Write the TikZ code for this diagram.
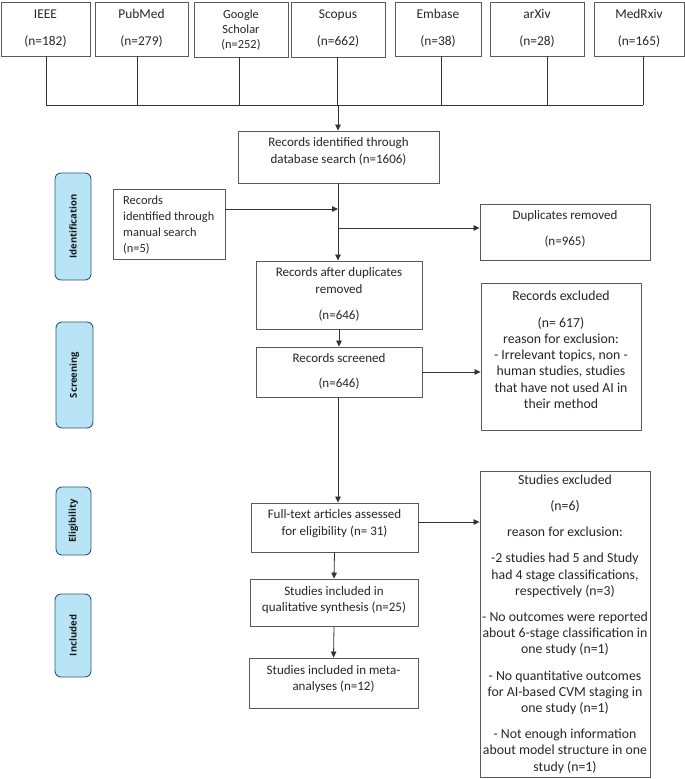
\documentclass[tikz,border=0pt]{standalone}
\usepackage{fontspec}
\setmainfont{Carlito}
\newfontfamily\sidefont{Open Sans}
\usetikzlibrary{arrows.meta}
\definecolor{boxline}{HTML}{5A5A5A}
\definecolor{connc}{HTML}{333333}
\definecolor{sidefill}{HTML}{B8E4F6}
\definecolor{sideline}{HTML}{2E5A78}
\begin{document}
\begin{tikzpicture}[x=1pt,y=-1pt,
  box/.style={draw=boxline, line width=0.9pt, inner sep=0pt},
  txt/.style={align=center, inner sep=0pt, font=\fontsize{13}{16.5}\selectfont, text=black!85},
  srctxt/.style={align=center, inner sep=0pt, font=\fontsize{13.4}{16}\selectfont, text=black!85},
  gtxt/.style={align=center, inner sep=0pt, font=\fontsize{12.4}{15}\selectfont, text=black!85},
  mantxt/.style={align=left, inner sep=0pt, font=\fontsize{12.4}{16}\selectfont, text=black!85},
  extxt/.style={align=center, inner sep=0pt, font=\fontsize{13.8}{16.2}\selectfont, text=black!85},
  sidebox/.style={draw=sideline, fill=sidefill, line width=0.9pt, rounded corners=6pt, inner sep=0pt},
  sidetxt/.style={rotate=90, inner sep=0pt, font=\sidefont\bfseries\fontsize{9.5}{10}\selectfont, text=black!90},
  conn/.style={draw=connc, line width=0.8pt},
  arr/.style={conn, -{Triangle[length=6pt,width=5.5pt]}}]
\useasboundingbox (0,0) rectangle (685,779);

% ---- source boxes
\node[box, minimum width=89pt, minimum height=54pt] (ieee) at (45.5,29) {};
\node[srctxt] (ieee-t) at (45.5,28.5) {IEEE\\[11pt](n=182)};
\node[box, minimum width=93pt, minimum height=54pt] (pubmed) at (141.5,29) {};
\node[srctxt] (pubmed-t) at (141.5,28.5) {PubMed\\[11pt](n=279)};
\node[box, minimum width=94pt, minimum height=55pt] (google) at (241,29.5) {};
\node[gtxt] (google-t) at (241,30) {Google\\Scholar\\(n=252)};
\node[box, minimum width=94pt, minimum height=55pt] (scopus) at (338,29.5) {};
\node[srctxt] (scopus-t) at (338,28.5) {Scopus\\[11pt](n=662)};
\node[box, minimum width=86pt, minimum height=54pt] (embase) at (438,29) {};
\node[srctxt] (embase-t) at (438,28.5) {Embase\\[11pt](n=38)};
\node[box, minimum width=94pt, minimum height=54pt] (arxiv) at (537,29) {};
\node[srctxt] (arxiv-t) at (537,28.5) {arXiv\\[11pt](n=28)};
\node[box, minimum width=90pt, minimum height=54pt] (medrxiv) at (639,29) {};
\node[srctxt] (medrxiv-t) at (639,28.5) {MedRxiv\\[11pt](n=165)};

% ---- main flow
\node[box, minimum width=201pt, minimum height=52pt] (rid) at (338.5,157) {};
\node[txt] (rid-t) at (338.5,151.5) {Records identified through\\database search (n=1606)};

\node[box, minimum width=112pt, minimum height=70pt] (manual) at (169,224) {};
\node[mantxt, anchor=west] (manual-t) at (123,225) {Records\\identified through\\manual search\\(n=5)};

\node[box, minimum width=170pt, minimum height=56pt] (dup) at (565,232) {};
\node[txt] (dup-t) at (565,229) {Duplicates removed\\[10pt](n=965)};

\node[box, minimum width=166pt, minimum height=68pt] (after) at (339,295) {};
\node[txt] (after-t) at (339,294.5) {Records after duplicates\\removed\\[9.5pt](n=646)};

\node[box, minimum width=166pt, minimum height=50pt] (screened) at (339,372) {};
\node[txt] (screened-t) at (339,371.5) {Records screened\\[8.5pt](n=646)};

\node[box, minimum width=160pt, minimum height=147pt] (recex) at (561,356.5) {};
\node[extxt] (recex-t) at (561,349.5) {Records excluded\\[10.8pt](n= 617)\\reason for exclusion:\\- Irrelevant topics, non -\\human studies, studies\\that have not used AI in\\their method};

\node[box, minimum width=167pt, minimum height=49pt] (full) at (334.5,527.5) {};
\node[txt] (full-t) at (334.5,523.5) {Full-text articles assessed\\for eligibility (n= 31)};

\node[box, minimum width=170pt, minimum height=306pt] (studex) at (565,624) {};
\node[extxt] (studex-t) at (565,624) {Studies excluded\\[10pt](n=6)\\[10pt]reason for exclusion:\\[10pt]-2 studies had 5 and Study\\had 4 stage classifications,\\respectively (n=3)\\[10pt]- No outcomes were reported\\about 6-stage classification in\\one study (n=1)\\[10pt]- No quantitative outcomes\\for AI-based CVM staging in\\one study (n=1)\\[10pt]- Not enough information\\about model structure in one\\study (n=1)};

\node[box, minimum width=168pt, minimum height=47pt] (qual) at (334,602.5) {};
\node[txt] (qual-t) at (334,600) {Studies included in\\qualitative synthesis (n=25)};

\node[box, minimum width=169pt, minimum height=50pt] (meta) at (333.5,683) {};
\node[txt] (meta-t) at (333.5,679) {Studies included in meta-\\analyses (n=12)};

% ---- side labels
\node[sidebox, minimum width=36pt, minimum height=107pt] (ident) at (73,226.5) {};
\node[sidetxt] (ident-t) at (ident) {Identification};
\node[sidebox, minimum width=37pt, minimum height=106pt] (screen) at (74.5,375) {};
\node[sidetxt] (screen-t) at (screen) {Screening};
\node[sidebox, minimum width=35pt, minimum height=68pt] (elig) at (73.5,521) {};
\node[sidetxt] (elig-t) at (elig) {Eligibility};
\node[sidebox, minimum width=36pt, minimum height=83pt] (incl) at (73,635.5) {};
\node[sidetxt] (incl-t) at (incl) {Included};

% ---- connectors: sources to bus
\coordinate (bus) at (338,105);
\coordinate (busl) at (46,105);
\coordinate (busr) at (643,105);
\draw[conn] ([xshift=0.5pt]ieee.south) -- ([xshift=0.5pt]ieee.south |- bus);
\draw[conn] ([xshift=-4.5pt]pubmed.south) -- ([xshift=-4.5pt]pubmed.south |- bus);
\draw[conn] ([xshift=-2pt]google.south) -- ([xshift=-2pt]google.south |- bus);
\draw[conn] ([xshift=-1pt]scopus.south) -- ([xshift=-1pt]scopus.south |- bus);
\draw[conn] ([xshift=3pt]embase.south) -- ([xshift=3pt]embase.south |- bus);
\draw[conn] ([xshift=10pt]arxiv.south) -- ([xshift=10pt]arxiv.south |- bus);
\draw[conn] ([xshift=4pt]medrxiv.south) -- ([xshift=4pt]medrxiv.south |- bus);
\draw[conn] (busl) -- (busr);
\draw[arr] (bus) -- (bus |- rid.north);

% ---- main connectors
\coordinate (jman) at (338,209);
\coordinate (jdup) at (338,228);
\draw[arr] (manual.east |- jman) -- (jman);
\draw[arr] (jdup) -- (dup.west |- jdup);
\draw[arr] (bus |- rid.south) -- (bus |- after.north);
\draw[arr] (after.south) -- (screened.north);
\draw[arr] (screened.east) -- (recex.west |- screened.east);
\draw[arr] (bus |- screened.south) -- (bus |- full.north);
\coordinate (jfull) at (418,522);
\draw[arr] (jfull) -- (studex.west |- jfull);
\draw[arr] (full.south) -- (qual.north);
\draw[arr] (qual.south) -- (meta.north);
\end{tikzpicture}
\end{document}
